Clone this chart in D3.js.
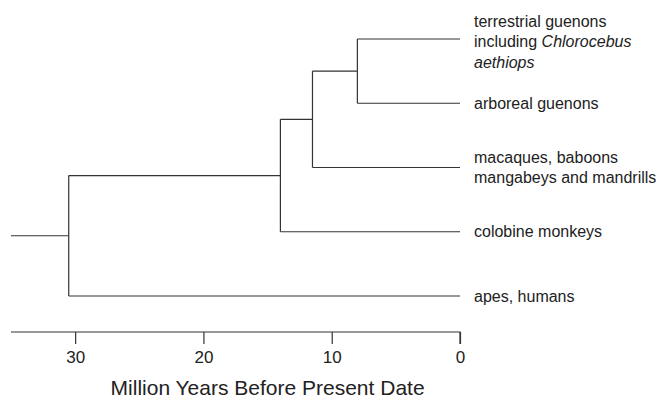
<!DOCTYPE html>
<html>
<head>
<meta charset="utf-8">
<script src="https://cdn.jsdelivr.net/npm/d3@7"></script>
<style>
  body { margin: 0; background: #fff; }
  svg { display: block; font-family: "Liberation Sans", Arial, sans-serif; }
  .branch { fill: none; stroke: #333; stroke-width: 1.2; }
  .axis path, .axis line { stroke: #333; stroke-width: 1.2; }
  .axis text { font-size: 17px; fill: #222; }
</style>
</head>
<body>
<div id="canvas"></div>
<script>
// data
var leafLabels = [
  ['terrestrial guenons', 'including *Chlorocebus*', '*aethiops*'],
  ['arboreal guenons'],
  ['macaques, baboons', 'mangabeys and mandrills'],
  ['colobine monkeys'],
  ['apes, humans']
];
var topology = [[[[0, 1], 2], 3], 4];   // nesting of the leaves above
var splitAges = [30.5, 14, 11.5, 8];    // million years, outermost split first
var rootAge = 35;                       // where the root stem starts
var tickValues = [30, 20, 10, 0];
var axisTitle = 'Million Years Before Present Date';

var W = 659, H = 397;
var svg = d3.select('#canvas').append('svg')
    .attr('width', W)
    .attr('height', H);

var x = d3.scaleLinear().domain([rootAge, 0]).range([11, 460]);
var y = d3.scalePoint().domain(d3.range(leafLabels.length)).range([39, 296]);

// build the tree
var root = d3.hierarchy(topology, function(d) { return Array.isArray(d) ? d : null; });
var k = 0;
root.eachBefore(function(n) {
  n.age = n.children ? splitAges[k++] : 0;
});
root.eachAfter(function(n) {
  n.py = n.children ? d3.mean(n.children, function(c) { return c.py; }) : y(n.data);
});

var g = svg.append('g');

// root stem
g.append('path').attr('class', 'branch')
    .attr('d', 'M' + x(rootAge) + ',' + root.py + 'H' + x(root.age));

// horizontal branches
g.selectAll('path.h')
    .data(root.descendants().filter(function(n) { return n.parent; }))
    .enter().append('path')
    .attr('class', 'branch h')
    .attr('d', function(n) {
      return 'M' + x(n.parent.age) + ',' + n.py + 'H' + x(n.age);
    });

// vertical connectors
g.selectAll('path.v')
    .data(root.descendants().filter(function(n) { return n.children; }))
    .enter().append('path')
    .attr('class', 'branch v')
    .attr('d', function(n) {
      var ys = n.children.map(function(c) { return c.py; });
      return 'M' + x(n.age) + ',' + d3.min(ys) + 'V' + d3.max(ys);
    });

// leaf labels
var lineH = 20.5;
var labels = g.selectAll('text.leaf')
    .data(root.leaves())
    .enter().append('text')
    .attr('class', 'leaf')
    .attr('x', x(0) + 14)
    .attr('font-size', 16)
    .attr('fill', '#222');

labels.each(function(n) {
  var lines = leafLabels[n.data];
  var t = d3.select(this);
  var y0 = n.py + 5.5 - (lines.length - 1) * lineH / 2 + (lines.length > 2 ? 2.5 : 0);
  lines.forEach(function(line, i) {
    var parts = line.split('*');
    parts.forEach(function(p, j) {
      if (!p) return;
      var ts = t.append('tspan').text(p)
          .attr('font-style', j % 2 ? 'italic' : 'normal');
      if (j === 0 || (j === 1 && parts[0] === '')) {
        ts.attr('x', x(0) + 14).attr('y', y0 + i * lineH);
      }
    });
  });
});

// axis
var axis = d3.axisBottom(x)
    .tickValues(tickValues)
    .tickSize(12)
    .tickSizeOuter(0)
    .tickPadding(7)
    .tickFormat(d3.format('d'));

var axisNode = svg.append('g')
    .attr('class', 'axis')
    .attr('transform', 'translate(0,332)')
    .call(axis);
axisNode.select('.domain').attr('d', 'M' + x(rootAge) + ',0H' + x(0) + 'V12');

svg.append('text')
    .attr('x', x(15))
    .attr('y', 395)
    .attr('text-anchor', 'middle')
    .attr('font-size', 21)
    .attr('fill', '#222')
    .text(axisTitle);
</script>
</body>
</html>
